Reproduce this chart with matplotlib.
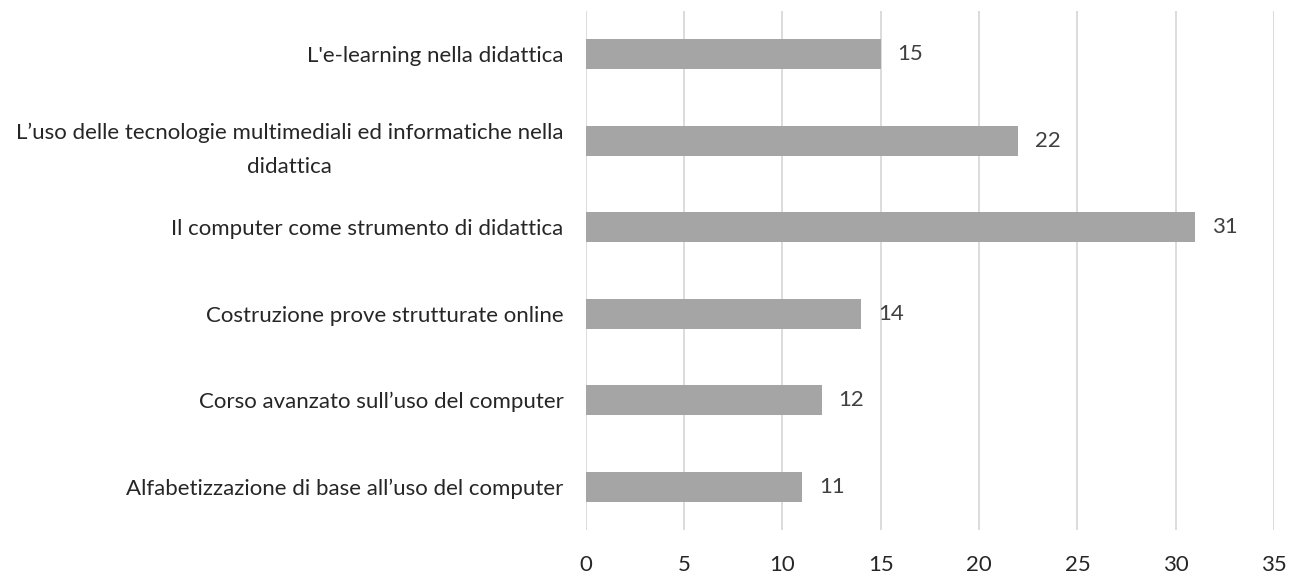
import matplotlib
matplotlib.use("Agg")
import matplotlib.pyplot as plt

categories = [
    "L'e-learning nella didattica",
    "L\u2019uso delle tecnologie multimediali ed informatiche nella\ndidattica",
    "Il computer come strumento di didattica",
    "Costruzione prove strutturate online",
    "Corso avanzato sull\u2019uso del computer",
    "Alfabetizzazione di base all\u2019uso del computer",
]
values = [15, 22, 31, 14, 12, 11]
xticks = [0, 5, 10, 15, 20, 25, 30, 35]

plt.rcParams['font.family'] = ['Lato', 'DejaVu Sans']

fig = plt.figure(figsize=(12.99, 5.74), dpi=100)
ax = fig.add_axes([0.4509, 0.0767, 0.9808 - 0.4509, 0.9808 - 0.0767])

ypos = list(range(len(categories)))
ax.barh(ypos, values, height=0.345, color="#A5A5A5", zorder=3)
ax.set_ylim(len(categories) - 0.5, -0.5)
ax.set_xlim(0, 35)
ax.set_xticks(xticks)
ax.set_xticklabels([str(t) for t in xticks], fontsize=16, color="#262626")
ax.set_yticks(ypos)
ax.set_yticklabels(categories, fontsize=16, color="#262626",
                   multialignment="center", linespacing=1.9)
ax.tick_params(axis="y", length=0, pad=16)
ax.tick_params(axis="x", length=0, pad=18)
ax.grid(axis="x", color="#D9D9D9", linewidth=1.3, zorder=0)
for s in ax.spines.values():
    s.set_visible(False)

for y, v in zip(ypos, values):
    ax.annotate(str(v), (v, y), xytext=(12, 0), textcoords="offset points",
                va="center", ha="left", fontsize=16, color="#404040")

fig.savefig("out.png", dpi=100)
